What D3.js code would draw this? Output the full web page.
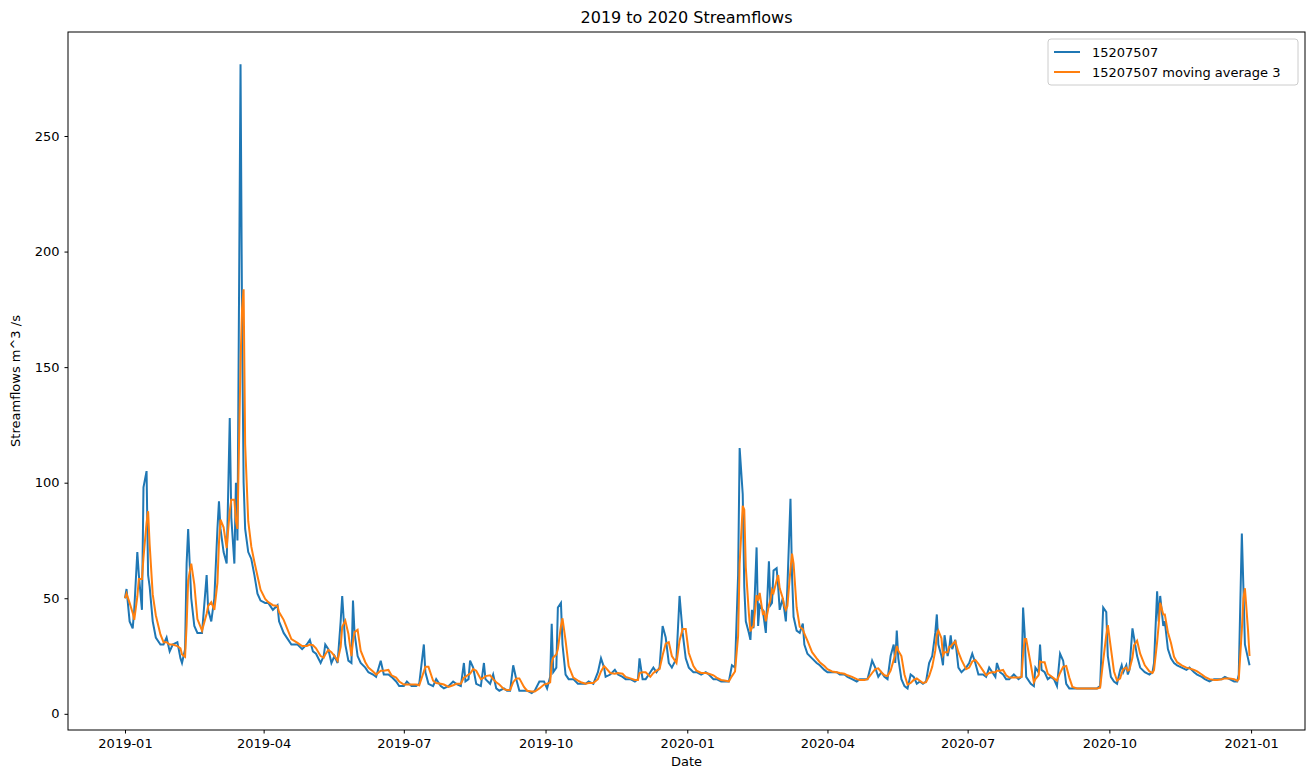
<!doctype html>
<meta charset="utf-8" />
<style>
    body { margin: 0; background: #fff; }
    text { font-family: "DejaVu Sans", sans-serif; }
</style>
<svg></svg>
<script src="https://cdn.jsdelivr.net/npm/d3@7"></script>
<script>
    // day offset from 2019-01-01
    var days = [0,1,3,5,6,8,9,11,12,14,15,16,18,20,23,25,27,29,31,34,36,37,39,40,41,43,45,47,50,53,54,56,58,60,61,62,64,66,68,69,71,72,73,75,76,77,78,80,82,84,86,88,91,93,96,99,100,103,106,108,112,115,118,120,122,124,127,129,130,132,134,136,138,140,141,143,145,147,148,149,151,153,156,158,161,163,166,168,171,173,176,178,181,183,186,189,191,194,195,197,200,202,205,207,210,213,215,218,220,221,223,224,226,228,231,233,234,237,239,241,243,246,248,250,252,254,256,259,261,264,266,269,272,274,276,277,278,280,281,283,284,286,288,291,294,296,299,301,304,307,309,311,312,315,318,320,323,325,328,331,333,334,336,338,341,343,345,347,349,351,353,355,358,360,362,364,366,369,371,374,377,379,382,384,387,390,392,394,396,398,399,401,402,403,405,406,407,408,410,411,412,414,415,416,418,419,420,421,423,424,425,427,428,429,430,432,433,434,436,438,440,441,443,446,449,451,454,456,459,462,464,467,469,472,475,477,480,482,485,487,489,491,493,495,497,499,500,501,502,504,506,508,510,512,514,516,518,520,522,524,526,527,528,530,531,532,534,535,536,537,539,541,543,546,548,550,552,554,557,559,561,563,565,566,568,570,572,574,577,580,582,583,584,585,588,590,591,593,594,595,597,599,601,603,605,607,609,611,613,615,618,620,623,626,628,631,633,635,637,638,640,642,644,646,647,648,650,651,652,654,655,657,659,662,665,667,668,670,671,672,674,675,677,679,681,683,686,689,691,694,696,699,701,704,707,709,712,714,717,720,722,723,725,726,727,729,730];
    var flow = [50,54,40,37,45,70,60,45,98,105,60,55,40,33,30,30,33,27,30,31,24,22,28,65,80,50,38,35,35,60,45,40,50,80,92,80,70,65,128,85,65,100,75,281,170,100,80,70,67,60,52,49,48,48,45,47,40,35,32,30,30,28,30,32,27,26,22,25,30,28,22,25,22,40,51,30,23,22,49,35,25,22,20,18,17,16,23,17,17,16,14,12,12,14,12,12,13,30,18,13,12,15,12,11,12,14,13,12,22,14,15,23,20,13,12,22,15,13,17,11,10,11,10,10,21,15,10,10,10,9,10,14,14,11,16,39,18,20,46,48,30,17,15,15,13,13,13,14,13,18,24,20,16,17,19,17,16,15,15,14,15,24,15,15,18,20,18,20,38,33,22,20,24,51,35,24,20,18,18,17,18,17,15,15,14,14,14,21,20,60,115,95,55,40,35,32,45,37,72,38,47,45,40,35,66,47,48,62,63,55,45,50,45,40,55,93,60,42,36,35,39,30,26,24,22,21,19,18,18,18,17,17,16,15,14,15,15,15,23,20,16,18,16,15,25,30,22,36,24,15,12,11,17,16,13,14,13,14,22,25,35,43,30,25,21,34,25,28,34,28,32,20,18,20,22,26,22,17,17,16,20,18,16,22,18,17,15,15,17,15,16,46,35,16,13,12,20,18,30,19,18,15,16,15,12,26,23,13,11,11,11,11,11,11,11,11,12,46,44,25,16,14,13,19,21,18,21,17,19,37,33,25,20,18,17,18,22,53,40,51,38,40,28,24,22,21,20,19,20,18,17,16,15,14,15,15,15,16,15,14,14,17,78,55,30,24,21];
    var yTicks = [0, 50, 100, 150, 200, 250];
    var seriesNames = ['15207507', '15207507 moving average 3'];
    var colors = ['#1f77b4', '#ff7f0e'];

    var W = 1315, H = 778;
    var m = { left: 68, right: 10, top: 32, bottom: 48 };
    var svg = d3.select('svg').attr('width', W).attr('height', H);

    var t0 = new Date(2019, 0, 1);
    var data = days.map(function (d, i) {
        return { date: d3.timeDay.offset(t0, d), v: flow[i] };
    });
    // trailing 3-sample mean
    var avg = data.map(function (d, i) {
        var s = data.slice(Math.max(0, i - 2), i + 1);
        return { date: d.date, v: d3.mean(s, function (e) { return e.v; }) };
    });

    var x = d3.scaleTime()
        .domain([d3.timeDay.offset(t0, -36.5), d3.timeDay.offset(t0, 730 + 36.5)])
        .range([m.left, W - m.right]);
    var y = d3.scaleLinear().domain([-7, 295]).range([H - m.bottom, m.top]);

    var xTicks = d3.range(0, 9).map(function (i) { return new Date(2019, i * 3, 1); });
    var g = svg.append('g');

    svg.append('g')
        .attr('transform', 'translate(0,' + (H - m.bottom) + ')')
        .call(d3.axisBottom(x).tickValues(xTicks).tickSizeOuter(0).tickSize(3.5).tickPadding(5)
            .tickFormat(d3.timeFormat('%Y-%m')))
        .call(function (a) { a.select('.domain').remove(); a.selectAll('text').attr('font-size', 13).attr('fill', '#000'); });
    svg.append('g')
        .attr('transform', 'translate(' + m.left + ',0)')
        .call(d3.axisLeft(y).tickValues(yTicks).tickSizeOuter(0).tickSize(3.5).tickPadding(5))
        .call(function (a) { a.select('.domain').remove(); a.selectAll('text').attr('font-size', 13).attr('fill', '#000'); });

    var line = d3.line().x(function (d) { return x(d.date); }).y(function (d) { return y(d.v); });
    g.append('path').datum(data).attr('d', line)
        .attr('fill', 'none').attr('stroke', colors[0]).attr('stroke-width', 2);
    g.append('path').datum(avg).attr('d', line)
        .attr('fill', 'none').attr('stroke', colors[1]).attr('stroke-width', 2);

    svg.append('rect')
        .attr('x', m.left).attr('y', m.top)
        .attr('width', W - m.left - m.right).attr('height', H - m.top - m.bottom)
        .attr('fill', 'none').attr('stroke', '#000').attr('stroke-width', 1);

    svg.append('text').attr('x', (m.left + W - m.right) / 2).attr('y', 23)
        .attr('text-anchor', 'middle').attr('font-size', 16).text('2019 to 2020 Streamflows');
    svg.append('text').attr('x', (m.left + W - m.right) / 2).attr('y', 766)
        .attr('text-anchor', 'middle').attr('font-size', 13).text('Date');
    svg.append('text').attr('transform', 'translate(20,' + ((m.top + H - m.bottom) / 2) + ') rotate(-90)')
        .attr('text-anchor', 'middle').attr('font-size', 13).text('Streamflows m^3 /s');

    var lg = svg.append('g').attr('transform', 'translate(1048,39)');
    lg.append('rect').attr('width', 250).attr('height', 46).attr('rx', 3)
        .attr('fill', '#fff').attr('fill-opacity', 0.8).attr('stroke', '#ccc');
    seriesNames.forEach(function (n, i) {
        var yy = 13 + i * 20;
        lg.append('line').attr('x1', 6).attr('x2', 32).attr('y1', yy).attr('y2', yy)
            .attr('stroke', colors[i]).attr('stroke-width', 2);
        lg.append('text').attr('x', 44).attr('y', yy + 4.5).attr('font-size', 13).text(n);
    });
</script>
